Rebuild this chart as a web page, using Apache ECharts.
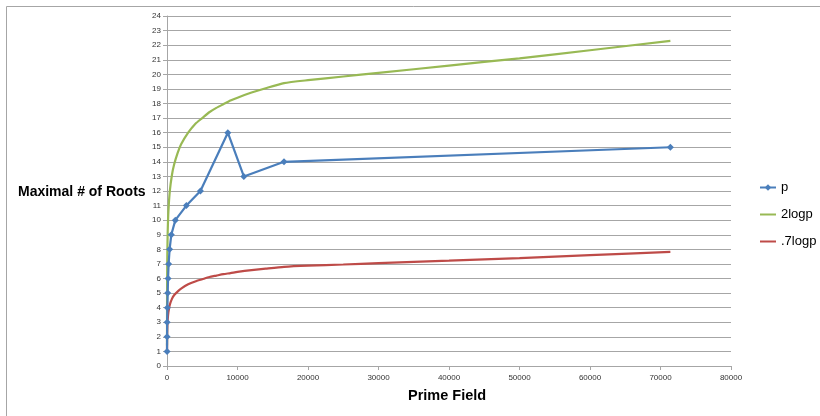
<!DOCTYPE html>
<html>
<head>
<meta charset="utf-8">
<script src="https://cdn.jsdelivr.net/npm/echarts@6/dist/echarts.min.js"></script>
<style>html,body{margin:0;padding:0;background:#fff;}#c{width:820px;height:416px;}</style>
</head>
<body>
<div id="c"></div>
<script>
// Prime field values (x) of the plotted points
var primeField = [5, 10, 20, 50, 100, 150, 230, 370, 610, 1180, 2750, 4740, 8630, 10900, 16600, 71400];
// Maximal number of roots (series "p")
var pRoots = [1, 2, 3, 4, 5, 6, 7, 8, 9, 10, 11, 12, 16, 13, 14, 15];
// x positions where the two reference curves were read
var curveX = [2, 5, 10, 20, 50, 100, 200, 400, 700, 1000, 1500, 2000, 3000, 4000, 5000, 6000, 7000, 8000, 9000, 10000, 12000, 14000, 16600, 20000, 25000, 30000, 40000, 50000, 60000, 71400];
// Series "2logp"
var twoLogP = [1.4, 3.2, 4.6, 6.0, 7.8, 9.2, 10.6, 12.0, 13.1, 13.8, 14.6, 15.2, 16.0, 16.6, 17.0, 17.4, 17.7, 17.95, 18.2, 18.4, 18.75, 19.05, 19.4, 19.6, 19.85, 20.1, 20.6, 21.1, 21.65, 22.3];
// Series ".7logp"
var sevenLogP = [0.9, 1.13, 1.6, 2.1, 2.75, 3.2, 3.7, 4.2, 4.6, 4.85, 5.1, 5.3, 5.6, 5.8, 5.95, 6.1, 6.2, 6.3, 6.37, 6.45, 6.58, 6.68, 6.8, 6.88, 6.96, 7.05, 7.22, 7.4, 7.6, 7.83];
var seriesNames = ['p', '2logp', '.7logp'];

function pairs(xs, ys) { return xs.map(function (x, i) { return [x, ys[i]]; }); }

var chart = echarts.init(document.getElementById('c'), null, { renderer: 'canvas' });
var font = 'Liberation Sans, Arial, sans-serif';
var lineIcon = 'path://M0,0 L16,0 L16,2 L0,2 Z';
chart.setOption({
  animation: false,
  backgroundColor: '#ffffff',
  textStyle: { fontFamily: font },
  grid: { left: 167, right: 89, top: 16, bottom: 50, containLabel: false },
  xAxis: {
    type: 'value', min: 0, max: 80000, interval: 10000,
    axisLine: { show: true, lineStyle: { color: '#a6a6a6', width: 1 } },
    axisTick: { show: true, length: 4, inside: false, lineStyle: { color: '#a6a6a6' } },
    axisLabel: { color: '#333', fontSize: 8, margin: 8, fontFamily: font, formatter: function (v) { return String(v); } },
    splitLine: { show: false }
  },
  yAxis: {
    type: 'value', min: 0, max: 24, interval: 1,
    axisLine: { show: true, lineStyle: { color: '#a6a6a6', width: 1 } },
    axisTick: { show: true, length: 4, inside: false, lineStyle: { color: '#a6a6a6' } },
    axisLabel: { color: '#333', fontSize: 8, margin: 6, fontFamily: font },
    splitLine: { show: true, lineStyle: { color: '#a6a6a6', width: 1 } }
  },
  legend: {
    orient: 'vertical', left: 754, top: 176, itemGap: 14,
    itemWidth: 16, itemHeight: 8, symbolKeepAspect: true,
    textStyle: { color: '#000', fontSize: 13, fontFamily: font },
    data: [
      { name: seriesNames[0] },
      { name: seriesNames[1], icon: lineIcon },
      { name: seriesNames[2], icon: lineIcon }
    ]
  },
  graphic: [
    { type: 'line', shape: { x1: 6.5, y1: 6.5, x2: 820, y2: 6.5 }, style: { stroke: '#a6a6a6', lineWidth: 1 }, silent: true },
    { type: 'line', shape: { x1: 6.5, y1: 6.5, x2: 6.5, y2: 416 }, style: { stroke: '#a6a6a6', lineWidth: 1 }, silent: true },
    { type: 'text', left: 18, top: 185, style: { text: 'Maximal # of Roots', font: 'bold 14px ' + font, fill: '#000' } },
    { type: 'text', left: 408, top: 388, style: { text: 'Prime Field', font: 'bold 14.5px ' + font, fill: '#000' } }
  ],
  series: [
    {
      name: seriesNames[0], type: 'line', data: pairs(primeField, pRoots),
      symbol: 'diamond', symbolSize: 7, showSymbol: true,
      lineStyle: { color: '#4a7ebb', width: 2.2 },
      itemStyle: { color: '#4a7ebb' }, z: 3
    },
    {
      name: seriesNames[1], type: 'line', data: pairs(curveX, twoLogP),
      symbol: 'none', smooth: 0.2,
      lineStyle: { color: '#98b954', width: 2.2 },
      itemStyle: { color: '#98b954' }, z: 2
    },
    {
      name: seriesNames[2], type: 'line', data: pairs(curveX, sevenLogP),
      symbol: 'none', smooth: 0.2,
      lineStyle: { color: '#be4b48', width: 2.2 },
      itemStyle: { color: '#be4b48' }, z: 2
    }
  ]
});
</script>
</body>
</html>
